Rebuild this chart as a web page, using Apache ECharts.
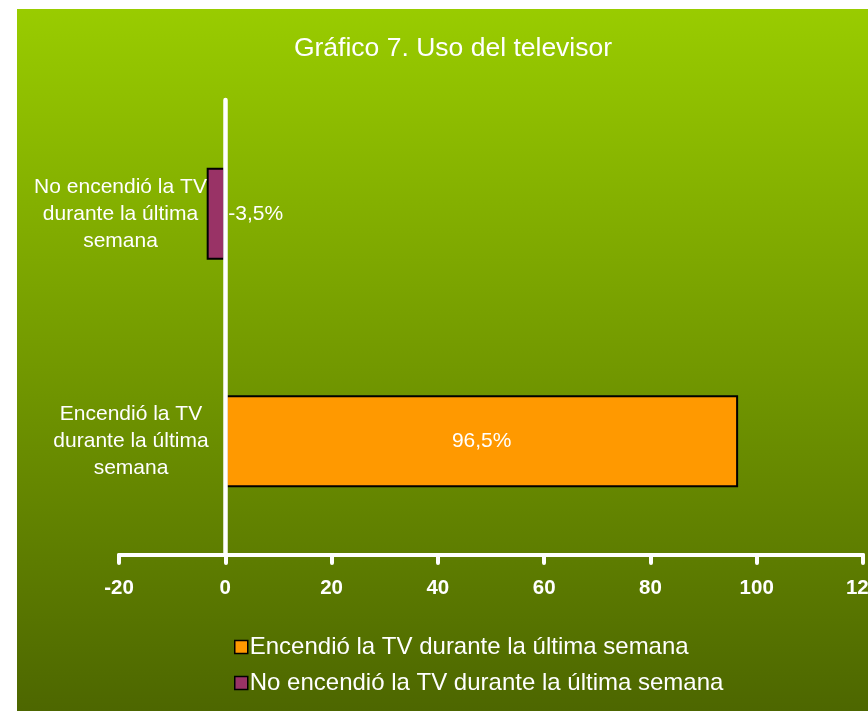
<!DOCTYPE html>
<html>
<head>
<meta charset="utf-8">
<script src="https://cdn.jsdelivr.net/npm/echarts@6/dist/echarts.min.js"></script>
<style>
html,body{margin:0;padding:0;overflow:hidden;background:#fff;width:868px;height:711px;}
#chart{position:absolute;left:17px;top:9px;width:872px;height:720px;}
</style>
</head>
<body>
<div id="chart"></div>
<script>
const categories = ['Encendió la TV\ndurante la última\nsemana', 'No encendió la TV\ndurante la última\nsemana'];
const seriesNames = ['Encendió la TV durante la última semana', 'No encendió la TV durante la última semana'];
const encendio = [96.5, '-'];
const noEncendio = ['-', -3.5];
const xTicks = { min: -20, max: 120, interval: 20 };

const chart = echarts.init(document.getElementById('chart'));
const fmt = p => String(p.value.toFixed(1)).replace('.', ',') + '%';
chart.setOption({
  animation: false,
  backgroundColor: new echarts.graphic.LinearGradient(0, 0, 0, 1, [
    { offset: 0, color: '#99CC00' },
    { offset: 1, color: '#4B6400' }
  ]),
  title: {
    text: 'Gráfico 7. Uso del televisor',
    left: 'center',
    top: 21,
    textStyle: { color: '#fff', fontFamily: 'Liberation Sans, Arial', fontWeight: 'normal', fontSize: 26.5 }
  },
  legend: {
    orient: 'vertical',
    left: 212,
    top: 621,
    icon: 'rect',
    itemWidth: 13,
    itemHeight: 13,
    itemGap: 12,
    data: seriesNames,
    textStyle: { color: '#fff', fontFamily: 'Liberation Sans, Arial', fontSize: 24, padding: [0,0,0,-3] },
    itemStyle: { borderColor: '#000', borderWidth: 1.5 }
  },
  grid: { left: 102, right: 26, top: 91, bottom: 174, containLabel: false, outerBoundsMode: 'none' },
  xAxis: {
    type: 'value',
    min: xTicks.min, max: xTicks.max, interval: xTicks.interval,
    axisLine: { show: true, lineStyle: { color: '#fff', width: 4, cap: 'round' } },
    axisTick: { show: true, length: 8, lineStyle: { color: '#fff', width: 4, cap: 'round' } },
    splitLine: { show: false },
    axisLabel: { color: '#fff', fontFamily: 'Liberation Sans, Arial', fontWeight: 'bold', fontSize: 20.5, margin: 23 }
  },
  yAxis: {
    type: 'category',
    data: categories,
    z: 5,
    axisLine: { show: true, onZero: true, lineStyle: { color: '#fff', width: 4.5 } },
    axisTick: { show: false },
    splitLine: { show: false },
    axisLabel: {
      color: '#fff', fontFamily: 'Liberation Sans, Arial', fontSize: 21, lineHeight: 27,
      align: 'center', margin: -12,
      formatter: (v, i) => i === 1 ? '{a|' + v.split('\n').join('}\n{a|') + '}' : v,
      rich: { a: { color: '#fff', fontFamily: 'Liberation Sans, Arial', fontSize: 21, lineHeight: 27, padding: [0, 21, 0, 0] } }
    }
  },
  series: [
    {
      name: seriesNames[0], type: 'bar', data: encendio, barWidth: 92, barGap: '-100%',
      itemStyle: { color: '#FF9900', borderColor: '#000', borderWidth: 2 },
      label: { show: true, position: 'inside', color: '#fff', fontFamily: 'Liberation Sans, Arial', fontSize: 21, formatter: fmt }
    },
    {
      name: seriesNames[1], type: 'bar', data: noEncendio, barWidth: 92,
      itemStyle: { color: '#993366', borderColor: '#000', borderWidth: 2 },
      label: { show: true, position: 'right', distance: 3, color: '#fff', fontFamily: 'Liberation Sans, Arial', fontSize: 21, formatter: fmt }
    }
  ]
});
</script>
</body>
</html>
